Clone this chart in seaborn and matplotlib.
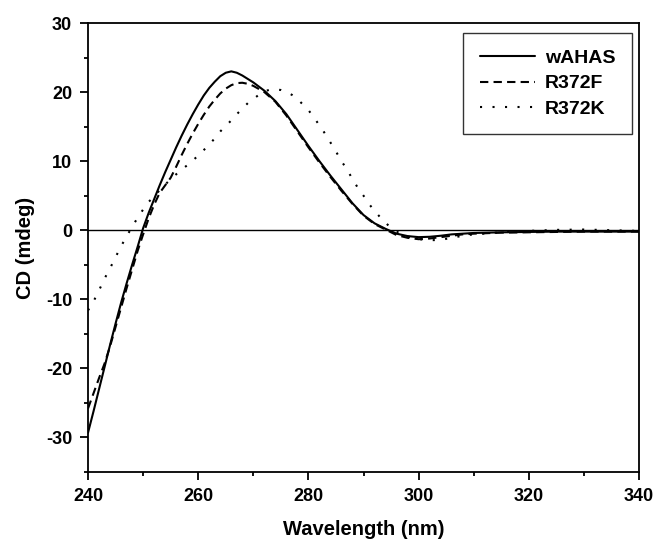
import numpy as np
import pandas as pd
import matplotlib
matplotlib.use("Agg")
import matplotlib.pyplot as plt
import seaborn as sns
from matplotlib.ticker import MultipleLocator

# ---- data ----
wl_wt = [240, 241, 242, 243, 244, 245, 246, 247, 248, 249, 250, 251, 252, 253, 254,
         255, 256, 257, 258, 259, 260, 261, 262, 263, 264, 265, 266, 267, 268, 269,
         270, 272, 274, 276, 278, 280, 282, 284, 286, 288, 290, 292, 294, 296, 298,
         300, 302, 304, 306, 308, 310, 315, 320, 325, 330, 335, 340]
cd_wt = [-29.3, -26.2, -23.0, -19.8, -16.6, -13.5, -10.5, -7.7, -5.0, -2.4, 0.3, 2.5, 4.5, 6.5, 8.4,
         10.2, 12.0, 13.7, 15.3, 16.8, 18.2, 19.5, 20.6, 21.5, 22.3, 22.8, 23.0, 22.8, 22.4, 21.9,
         21.4, 20.2, 18.7, 16.8, 14.5, 12.2, 10.0, 7.9, 5.9, 3.9, 2.2, 1.0, 0.2, -0.5, -0.85,
         -1.0, -0.95, -0.8, -0.6, -0.5, -0.4, -0.3, -0.25, -0.2, -0.2, -0.2, -0.2]

wl_f = [240, 241, 242, 243, 244, 245, 246, 247, 248, 249, 250, 251, 252, 253, 254,
        255, 256, 257, 258, 259, 260, 261, 262, 263, 264, 265, 266, 267, 268, 269,
        270, 272, 274, 276, 278, 280, 282, 284, 286, 288, 290, 292, 294, 296, 298,
        300, 302, 304, 306, 308, 310, 315, 320, 325, 330, 335, 340]
cd_f = [-25.8, -23.6, -21.4, -19.3, -16.8, -14.0, -11.2, -8.4, -5.7, -3.0, -0.6, 1.7, 3.7, 5.4, 6.5,
        7.6, 9.2, 10.9, 12.5, 14.0, 15.4, 16.7, 17.9, 18.9, 19.8, 20.5, 21.0, 21.3, 21.35, 21.2,
        20.9, 20.0, 18.6, 16.6, 14.3, 12.0, 9.8, 7.7, 5.7, 3.8, 2.1, 0.9, 0.1, -0.7, -1.1,
        -1.3, -1.2, -1.0, -0.8, -0.6, -0.5, -0.35, -0.3, -0.25, -0.2, -0.2, -0.2]

wl_k = [240, 241, 242, 243, 244, 245, 246, 247, 248, 249, 250, 251, 252, 253, 254,
        255, 256, 257, 258, 259, 260, 261, 262, 263, 264, 265, 266, 267, 268, 269,
        270, 271, 272, 273, 274, 275, 276, 277, 278, 279, 280, 281, 282, 283, 284,
        285, 286, 287, 288, 289, 290, 291, 292, 293, 294, 295, 296, 297, 298, 299,
        300, 302, 304, 306, 308, 310, 315, 320, 325, 330, 335, 340]
cd_k = [-11.6, -10.3, -8.7, -7.0, -5.5, -3.9, -2.3, -0.9, 0.5, 1.8, 3.0, 4.1, 4.9, 5.8, 6.6,
        7.4, 8.1, 8.8, 9.4, 10.1, 10.8, 11.6, 12.4, 13.3, 14.3, 15.1, 15.9, 16.8, 17.6, 18.4,
        19.0, 19.6, 20.1, 20.35, 20.4, 20.3, 20.0, 19.6, 19.0, 18.2, 17.4, 16.3, 15.2, 14.0, 12.7,
        11.4, 10.0, 8.8, 7.4, 6.1, 5.0, 3.8, 2.8, 1.9, 1.1, 0.3, -0.2, -0.6, -0.9, -1.1,
        -1.3, -1.45, -1.4, -1.1, -0.8, -0.6, -0.3, -0.1, 0.05, 0.1, 0.0, -0.1]

labels = ["wAHAS", "R372F", "R372K"]
x_ticks = [240, 260, 280, 300, 320, 340]
y_ticks = [-30, -20, -10, 0, 10, 20, 30]

# ---- style ----
sns.set_theme(style="ticks")
plt.rcParams["font.family"] = ["Liberation Sans", "DejaVu Sans"]
plt.rcParams["font.weight"] = "bold"
plt.rcParams["axes.unicode_minus"] = False
plt.rcParams["text.color"] = "black"
plt.rcParams["axes.labelcolor"] = "black"
plt.rcParams["xtick.color"] = "black"
plt.rcParams["ytick.color"] = "black"

fig = plt.figure(figsize=(6.57, 5.44), dpi=100)
ax = fig.add_axes([0.134, 0.1324, 0.9726 - 0.134, 0.9577 - 0.1324])

ax.axhline(0, color="black", lw=1.0, zorder=1)

styles = ["-", (0, (4, 2.5)), (0, (1, 5))]
series = [(wl_wt, cd_wt), (wl_f, cd_f), (wl_k, cd_k)]
for (xs, ys), lab, ls in zip(series, labels, styles):
    sns.lineplot(x=xs, y=ys, ax=ax, color="black", linestyle=ls, lw=1.5,
                 label=lab, sort=False, estimator=None, zorder=3)

ax.set_xlim(240, 340)
ax.set_ylim(-35, 30)
ax.set_xticks(x_ticks)
ax.set_yticks(y_ticks)
ax.xaxis.set_minor_locator(MultipleLocator(10))
ax.yaxis.set_minor_locator(MultipleLocator(5))

for s in ax.spines.values():
    s.set_linewidth(1.3)
    s.set_color("black")
    s.set_visible(True)

ax.tick_params(axis="both", which="major", direction="out", length=6, width=1.3,
               labelsize=13, pad=5.5, colors="black", top=False, right=False)
ax.tick_params(axis="both", which="minor", direction="out", length=3, width=1.3,
               top=False, right=False)
for t in ax.get_xticklabels() + ax.get_yticklabels():
    t.set_fontweight("bold")

ax.set_xlabel("Wavelength (nm)", fontsize=14.5, fontweight="bold", labelpad=11, color="black")
ax.set_ylabel("CD (mdeg)", fontsize=14.5, fontweight="bold", labelpad=8, color="black")

leg = ax.legend(loc="upper right", bbox_to_anchor=(0.987, 0.978), borderaxespad=0,
                frameon=True, fancybox=False, edgecolor="black", fontsize=14,
                handlelength=2.85, handletextpad=0.5, labelspacing=0.4,
                borderpad=0.85)
leg.get_frame().set_linewidth(1.0)
for t in leg.get_texts():
    t.set_fontweight("bold")
    t.set_color("black")

fig.savefig("out.png", dpi=100)
